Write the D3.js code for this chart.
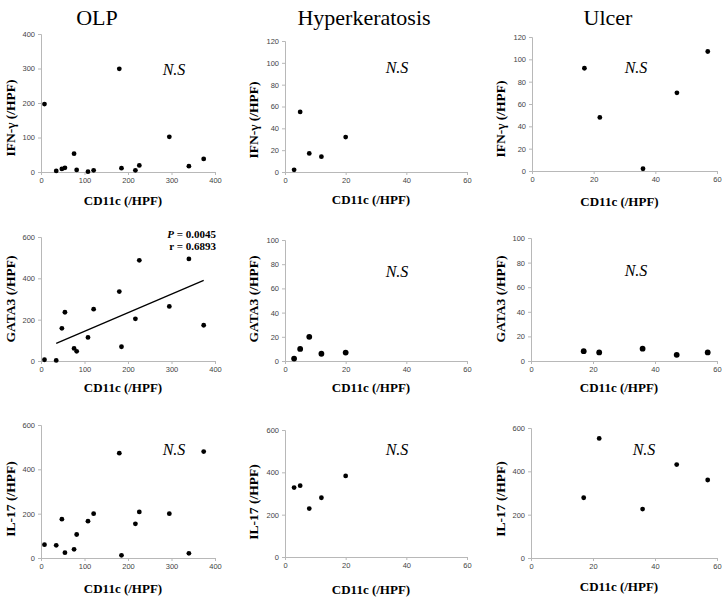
<!DOCTYPE html>
<html><head><meta charset="utf-8">
<script src="https://cdn.jsdelivr.net/npm/d3@7"></script>
<style>body{margin:0;background:#fff}</style>
</head><body>
<svg id="c" width="725" height="599"></svg>
<script>
// ---- data ----
const groups = ["OLP", "Hyperkeratosis", "Ulcer"];
const markers = ["IFN-γ (/HPF)", "GATA3 (/HPF)", "IL-17 (/HPF)"];
const xLabel = "CD11c (/HPF)";

const olpCD11c   = [8, 35, 48, 55, 76, 82, 108, 121, 180, 185, 217, 226, 295, 340, 374];
const olpIFN     = [197, 3, 9, 12, 53, 6, 1, 5, 299, 11, 5, 19, 102, 17, 38];
const olpGATA3   = [6, 3, 158, 236, 61, 47, 114, 251, 336, 69, 204, 487, 264, 494, 173];
const olpIL17    = [60, 57, 175, 24, 39, 106, 166, 200, 473, 12, 154, 208, 200, 21, 480];

const hypCD11c   = [3, 5, 8, 12, 20];
const hypIFN     = [2, 55, 17, 14, 32];
const hypGATA3   = [2, 10, 20, 6, 7];
const hypIL17    = [328, 337, 229, 280, 383];

const ulcCD11c   = [17, 22, 36, 47, 57];
const ulcIFN     = [92, 48, 2, 70, 107];
const ulcGATA3   = [8, 7, 10, 5, 7];
const ulcIL17    = [278, 552, 226, 431, 360];

const olpXTicks = [0, 100, 200, 300, 400];
const smallXTicks = [0, 20, 40, 60];
const ifnOlpTicks = [0, 100, 200, 300, 400];
const ifnSmallTicks = [0, 20, 40, 60, 80, 100, 120];
const gata3OlpTicks = [0, 200, 400, 600];
const gata3SmallTicks = [0, 20, 40, 60, 80, 100];
const il17Ticks = [0, 200, 400, 600];

const trendOLPGATA3 = [[35, 85], [374, 390]];
const statsText = ["= 0.0045", "r = 0.6893"];

// ---- layout ----
const panels = [
  {row:0,col:0,xs:olpCD11c,ys:olpIFN,  xT:olpXTicks,  yT:ifnOlpTicks,   x0:41, x1:215,y0:172,y1:34, ns:[174,75],  ytc:118, xtb:205, r:2.4},
  {row:0,col:1,xs:hypCD11c,ys:hypIFN,  xT:smallXTicks,yT:ifnSmallTicks, x0:285,x1:467,y0:172,y1:41, ns:[397,73],  ytc:120, xtb:204, r:2.4},
  {row:0,col:2,xs:ulcCD11c,ys:ulcIFN,  xT:smallXTicks,yT:ifnSmallTicks, x0:532,x1:717,y0:171,y1:37, ns:[636,73],  ytc:119, xtb:206, r:2.4},
  {row:1,col:0,xs:olpCD11c,ys:olpGATA3,xT:olpXTicks,  yT:gata3OlpTicks, x0:41, x1:215,y0:361,y1:237,ns:null,     ytc:299, xtb:392, r:2.4},
  {row:1,col:1,xs:hypCD11c,ys:hypGATA3,xT:smallXTicks,yT:gata3SmallTicks,x0:285,x1:467,y0:361,y1:240,ns:[397,277],ytc:299, xtb:392, r:2.9},
  {row:1,col:2,xs:ulcCD11c,ys:ulcGATA3,xT:smallXTicks,yT:gata3SmallTicks,x0:531,x1:717,y0:361,y1:238,ns:[636,276],ytc:299, xtb:392, r:2.9},
  {row:2,col:0,xs:olpCD11c,ys:olpIL17, xT:olpXTicks,  yT:il17Ticks,     x0:41, x1:215,y0:558,y1:425,ns:[174,455], ytc:499, xtb:593, r:2.4},
  {row:2,col:1,xs:hypCD11c,ys:hypIL17, xT:smallXTicks,yT:il17Ticks,     x0:285,x1:467,y0:557,y1:430,ns:[397,455], ytc:502, xtb:594, r:2.4},
  {row:2,col:2,xs:ulcCD11c,ys:ulcIL17, xT:smallXTicks,yT:il17Ticks,     x0:531,x1:717,y0:558,y1:428,ns:[644,455], ytc:499, xtb:591, r:2.4}
];
const titleX = [97, 364, 608];
const yTitleX = [10, 253, 500];

const svg = d3.select("#c");
const serif = "'Liberation Serif','Times New Roman',serif";
const sans = "'Liberation Sans',Arial,sans-serif";

groups.forEach((g,i)=>{
  svg.append("text").attr("x",titleX[i]).attr("y",25).attr("text-anchor","middle")
    .attr("font-family",serif).attr("font-size",22).attr("fill","#000").text(g);
});

panels.forEach(p=>{
  const xDom = [p.xT[0], p.xT[p.xT.length-1]];
  const yDom = [p.yT[0], p.yT[p.yT.length-1]];
  const x = d3.scaleLinear().domain(xDom).range([p.x0,p.x1]);
  const y = d3.scaleLinear().domain(yDom).range([p.y0,p.y1]);

  const gx = svg.append("g").attr("transform",`translate(0,${p.y0})`)
    .call(d3.axisBottom(x).tickValues(p.xT).tickSize(3).tickPadding(3).tickFormat(d3.format("d")));
  const gy = svg.append("g").attr("transform",`translate(${p.x0},0)`)
    .call(d3.axisLeft(y).tickValues(p.yT).tickSize(3).tickPadding(3).tickFormat(d3.format("d")));
  [gx,gy].forEach(a=>{
    a.select(".domain").attr("stroke","#b8b8b8").attr("stroke-width",1);
    a.selectAll(".tick line").attr("stroke","#b8b8b8");
    a.selectAll(".tick text").attr("font-family",sans).attr("font-size",7.5).attr("fill","#444");
  });

  const pts = p.xs.map((v,i)=>[v,p.ys[i]]);
  svg.append("g").selectAll("circle").data(pts).join("circle")
    .attr("cx",d=>x(d[0])).attr("cy",d=>y(d[1])).attr("r",p.r).attr("fill","#000");

  // axis titles
  svg.append("text").attr("x",(p.x0+p.x1)/2-5).attr("y",p.xtb).attr("text-anchor","middle")
    .attr("font-family",serif).attr("font-weight","bold").attr("font-size",13).attr("fill","#000").text(xLabel);
  svg.append("text").attr("transform",`translate(${yTitleX[p.col]+5},${p.ytc}) rotate(-90)`)
    .attr("text-anchor","middle").attr("font-family",serif).attr("font-weight","bold")
    .attr("font-size",13.5).attr("fill","#000").text(markers[p.row]);

  if(p.ns){
    svg.append("text").attr("x",p.ns[0]).attr("y",p.ns[1]).attr("text-anchor","middle")
      .attr("font-family",serif).attr("font-style","italic").attr("font-size",16).attr("fill","#000").text("N.S");
  }

  if(p.row===1 && p.col===0){
    svg.append("line").attr("x1",x(trendOLPGATA3[0][0])).attr("y1",y(trendOLPGATA3[0][1]))
      .attr("x2",x(trendOLPGATA3[1][0])).attr("y2",y(trendOLPGATA3[1][1]))
      .attr("stroke","#000").attr("stroke-width",1.3);
    const t1 = svg.append("text").attr("x",216).attr("y",238).attr("text-anchor","end")
      .attr("font-family",serif).attr("font-weight","bold").attr("font-size",11).attr("fill","#000");
    t1.append("tspan").attr("font-style","italic").text("P");
    t1.append("tspan").text(" " + statsText[0]);
    svg.append("text").attr("x",216).attr("y",250).attr("text-anchor","end")
      .attr("font-family",serif).attr("font-weight","bold").attr("font-size",11).attr("fill","#000").text(statsText[1]);
  }
});
</script>
</body></html>
